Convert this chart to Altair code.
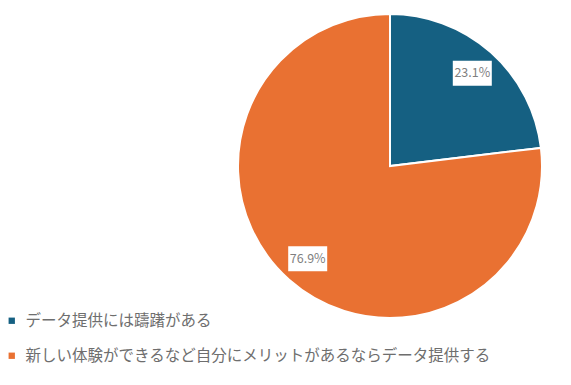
import altair as alt
import pandas as pd

categories = ["データ提供には躊躇がある", "新しい体験ができるなど自分にメリットがあるならデータ提供する"]
values = [23.1, 76.9]
labels = ["23.1%", "76.9%"]
colors = ["#156082", "#E97132"]

W, H = 555, 369
CX, CY, R = 382, 158, 152
LR = 124
FONT = "Noto Sans CJK JP"

df = pd.DataFrame({"category": categories, "value": values, "label": labels, "order": [0, 1]})

base = (
    alt.Chart(df)
    .transform_joinaggregate(total="sum(value)")
    .transform_window(cum="sum(value)", sort=[alt.SortField("order")], frame=[None, 0])
    .transform_calculate(
        mid="(datum.cum - datum.value/2)/datum.total*2*PI",
        px=f"{CX} + {LR}*sin(datum.mid)",
        py=f"{CY} - {LR}*cos(datum.mid)",
    )
    .transform_calculate(
        bx1="datum.px - 19.5", bx2="datum.px + 19.5",
        by1="datum.py - 12.5", by2="datum.py + 12.5",
    )
)

xs = alt.Scale(domain=[0, W], nice=False, zero=False)
ys = alt.Scale(domain=[0, H], nice=False, zero=False, reverse=True)

pie = base.mark_arc(outerRadius=R, stroke="white", strokeWidth=2).encode(
    theta=alt.Theta("value:Q", stack=True),
    color=alt.Color(
        "category:N",
        scale=alt.Scale(domain=categories, range=colors),
        legend=alt.Legend(
            title=None, orient="none", legendX=-4, legendY=305, direction="vertical",
            padding=0, symbolType="square", symbolSize=40, symbolStrokeWidth=0,
            labelFont=FONT, labelFontSize=15.5, labelColor="#6e6e6e",
            labelOffset=6, rowPadding=18, labelLimit=600,
        ),
    ),
    order=alt.Order("order:Q"),
    x=alt.value(CX),
    y=alt.value(CY),
)

boxes = base.mark_rect(fill="white").encode(
    x=alt.X("bx1:Q", scale=xs, axis=None),
    x2="bx2:Q",
    y=alt.Y("by1:Q", scale=ys, axis=None),
    y2="by2:Q",
)

texts = base.mark_text(font=FONT, fontSize=12.5, color="#7f7f7f").encode(
    x=alt.X("px:Q", scale=xs, axis=None),
    y=alt.Y("py:Q", scale=ys, axis=None),
    text="label:N",
)

chart = (
    alt.layer(pie, boxes, texts)
    .properties(width=W, height=H, autosize="none", padding=0)
    .configure_view(stroke=None)
)

chart.save("out.html", embed_options={"renderer": "svg", "actions": False})
